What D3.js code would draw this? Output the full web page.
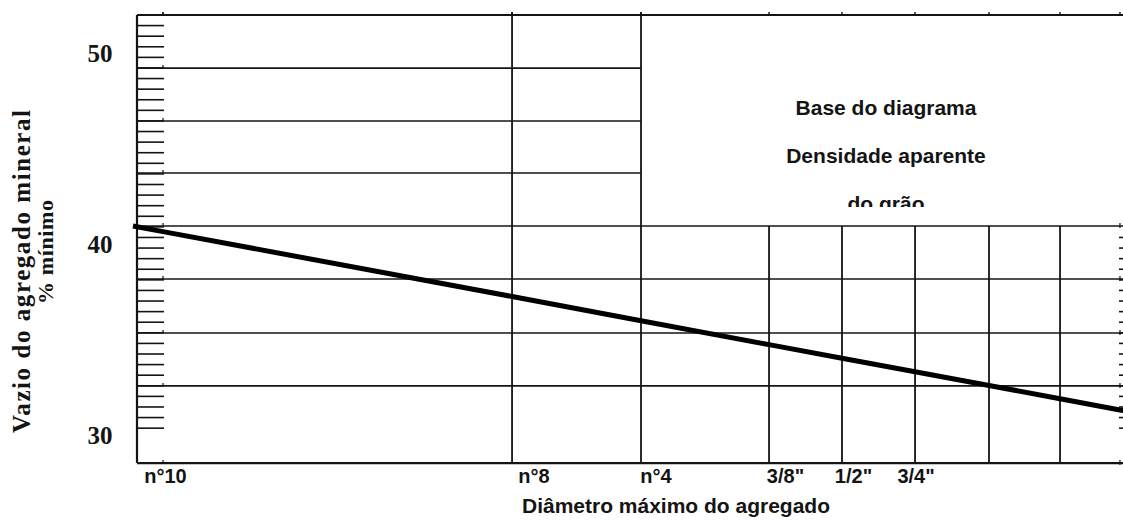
<!DOCTYPE html>
<html>
<head>
<meta charset="utf-8">
<script src="https://cdn.jsdelivr.net/npm/d3@7"></script>
<style>
  html, body { margin: 0; padding: 0; background: #fff; }
  svg { display: block; }
</style>
</head>
<body>
<svg id="chart" width="1123" height="521"></svg>
<script>
// ---- data ----
const sieves = ['n°10', 'n°8', 'n°4', '3/8"', '1/2"', '3/4"', '1"', '1 1/2"', '2"'];
const sievePos = [2.58, 37.17, 49.95, 62.64, 69.87, 77.11, 84.44, 91.48, 97.42];   // abscissa (diagram units)
const fullVertical = [false, true, true, false, false, false, false, false, false];
const lowerVertical = [false, false, false, true, true, true, true, true, false];
const voidMin = [40.65, 37.25, 35.98, 34.73, 34.02, 33.31, 32.59, 31.90, 31.31]; // % VAM at each sieve
const lineStart = { x: -0.4, y: 40.94 };
const lineEnd = { x: 100, y: 31.06 };
const yTickValues = [30, 40, 50];
const gridValues = [51.99, 49.21, 46.44, 43.72, 40.94, 38.17, 35.34, 32.57];
const yBottom = 28.53;
const xTickLabels = ['n°10', 'n°8', 'n°4', '3/8"', '1/2"', '3/4"'];
const xTickLabelAt = [2.82, 39.35, 51.44, 64.27, 71.01, 77.21];
const boxText = ['Base do diagrama', 'Densidade aparente', 'do grão'];
const yTitle = ['Vazio do agregado mineral', '% mínimo'];
const xTitle = 'Diâmetro máximo do agregado';

// ---- scales ----
const svg = d3.select('#chart');
const x = d3.scaleLinear().domain([0, 100]).range([137, 1146]);
const y = d3.scaleLinear().domain([30, 50]).range([435, 53]);
const ink = '#141414';

svg.append('rect').attr('width', 1123).attr('height', 521).attr('fill', '#fff');

const g = svg.append('g');
const topVal = gridValues[0];
const splitVal = gridValues[4];   // line where lower grid begins
const xN4 = x(sievePos[2]);

// minor ticks (5 per grid interval)
const step = (gridValues[1] - gridValues[gridValues.length - 1]) / (gridValues.length - 2) / 5;
const minor = d3.range(1, 40).map(k => topVal - k * step);
g.selectAll('line.minorL').data(minor).join('line')
  .attr('x1', x(0)).attr('x2', x(0) + 27)
  .attr('y1', d => y(d)).attr('y2', d => y(d))
  .attr('stroke', ink).attr('stroke-width', 1.6);
g.selectAll('line.minorR').data(minor.filter(d => d < splitVal - step / 2)).join('line')
  .attr('x1', x(100) - 27).attr('x2', x(100))
  .attr('y1', d => y(d)).attr('y2', d => y(d))
  .attr('stroke', ink).attr('stroke-width', 1.6);

// horizontal grid lines
g.selectAll('line.hgrid').data(gridValues).join('line')
  .attr('x1', x(0))
  .attr('x2', (d, i) => (i === 0 || d <= splitVal + 0.01) ? 1123 : xN4)
  .attr('y1', d => y(d)).attr('y2', d => y(d))
  .attr('stroke', ink).attr('stroke-width', (d, i) => i === 0 ? 2 : 1.6);

// bottom axis line
g.append('line').attr('x1', x(0)).attr('x2', 1123)
  .attr('y1', y(yBottom)).attr('y2', y(yBottom))
  .attr('stroke', ink).attr('stroke-width', 2.2);

// left axis line
g.append('line').attr('x1', x(0)).attr('x2', x(0))
  .attr('y1', y(topVal)).attr('y2', y(yBottom))
  .attr('stroke', ink).attr('stroke-width', 2.2);

// vertical lines
sievePos.forEach((p, i) => {
  if (fullVertical[i]) {
    g.append('line').attr('x1', x(p)).attr('x2', x(p))
      .attr('y1', y(topVal) - 3).attr('y2', y(yBottom))
      .attr('stroke', ink).attr('stroke-width', 1.8);
  } else if (lowerVertical[i]) {
    g.append('line').attr('x1', x(p)).attr('x2', x(p))
      .attr('y1', y(splitVal)).attr('y2', y(yBottom))
      .attr('stroke', ink).attr('stroke-width', 1.8);
  }
  // small tick on top line
  g.append('line').attr('x1', x(p)).attr('x2', x(p))
    .attr('y1', y(topVal) - 3).attr('y2', y(topVal))
    .attr('stroke', ink).attr('stroke-width', 1.4);
});
// small ticks of n°10 on each horizontal line
[...gridValues, yBottom].forEach(v => {
  g.append('line').attr('x1', x(sievePos[0])).attr('x2', x(sievePos[0]))
    .attr('y1', y(v) - 3).attr('y2', y(v))
    .attr('stroke', ink).attr('stroke-width', 1.2);
});
[...gridValues.filter(v => v <= splitVal + 0.01), yBottom].forEach(v => {
  g.append('line').attr('x1', x(sievePos[8])).attr('x2', x(sievePos[8]))
    .attr('y1', y(v) - 3).attr('y2', y(v) + 2)
    .attr('stroke', ink).attr('stroke-width', 1.2);
});

// the VAM line
const pts = [lineStart, ...sievePos.map((p, i) => ({ x: p, y: voidMin[i] })), lineEnd];
g.append('path').datum(pts)
  .attr('d', d3.line().x(d => x(d.x)).y(d => y(d.y)))
  .attr('fill', 'none').attr('stroke', '#000').attr('stroke-width', 5);

// y tick labels
g.selectAll('text.ytick').data(yTickValues).join('text')
  .attr('x', 100).attr('y', d => y(d)).attr('dy', '0.35em')
  .attr('text-anchor', 'middle')
  .attr('font-family', '"Liberation Serif", "Times New Roman", serif')
  .attr('font-weight', 'bold').attr('font-size', 25).attr('fill', ink)
  .text(d => d);

// x tick labels
g.selectAll('text.xtick').data(xTickLabels).join('text')
  .attr('x', (d, i) => x(xTickLabelAt[i])).attr('y', 483)
  .attr('text-anchor', 'middle')
  .attr('font-family', '"Liberation Sans", Arial, sans-serif')
  .attr('font-weight', 'bold').attr('font-size', 20).attr('fill', ink)
  .text(d => d);

// x title
g.append('text').attr('x', 676).attr('y', 513).attr('text-anchor', 'middle')
  .attr('font-family', '"Liberation Sans", Arial, sans-serif')
  .attr('font-weight', 'bold').attr('font-size', 20).attr('fill', ink)
  .attr('textLength', 308).attr('lengthAdjust', 'spacingAndGlyphs')
  .text(xTitle);

// y title
g.append('text').attr('transform', 'translate(30,271.5) rotate(-90)')
  .attr('text-anchor', 'middle')
  .attr('font-family', '"Liberation Serif", "Times New Roman", serif')
  .attr('font-weight', 'bold').attr('font-size', 25).attr('fill', ink)
  .attr('textLength', 323).attr('lengthAdjust', 'spacing')
  .text(yTitle[0]);
g.append('text').attr('transform', 'translate(53,252) rotate(-90)')
  .attr('text-anchor', 'middle')
  .attr('font-family', '"Liberation Serif", "Times New Roman", serif')
  .attr('font-weight', 'bold').attr('font-size', 22).attr('fill', ink)
  .attr('textLength', 104).attr('lengthAdjust', 'spacing')
  .text(yTitle[1]);

// box text (clipped at bottom like the reference)
svg.append('defs').append('clipPath').attr('id', 'boxclip')
  .append('rect').attr('x', xN4 + 2).attr('y', y(topVal) + 2)
  .attr('width', 1123 - xN4).attr('height', 207 - y(topVal) - 2);
const bt = g.append('g').attr('clip-path', 'url(#boxclip)');
const boxY = [115, 163, 211];
bt.selectAll('text').data(boxText).join('text')
  .attr('x', 886).attr('y', (d, i) => boxY[i])
  .attr('text-anchor', 'middle')
  .attr('font-family', '"Liberation Sans", Arial, sans-serif')
  .attr('font-weight', 'bold').attr('font-size', 21).attr('fill', ink)
  .text(d => d);
</script>
</body>
</html>
